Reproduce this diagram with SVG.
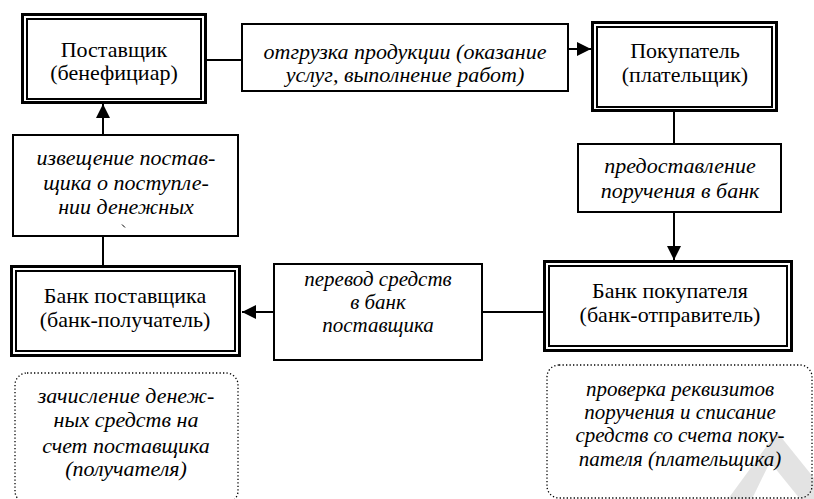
<svg xmlns="http://www.w3.org/2000/svg" width="814" height="499" viewBox="0 0 814 499">
<defs>
<marker id="ah" markerUnits="userSpaceOnUse" markerWidth="16" markerHeight="16" viewBox="0 0 16 16" refX="15" refY="8" orient="auto">
<path d="M1,1 L15,8 L1,15 Z" fill="#000"/>
</marker>
</defs>
<rect x="0" y="0" width="814" height="499" fill="#fff"/>

<g id="connectors" stroke="#000" stroke-width="2" fill="none">
<line x1="207" y1="60" x2="242" y2="60"/>
<line x1="568" y1="49" x2="591" y2="49" marker-end="url(#ah)"/>
<line x1="674" y1="112" x2="674" y2="144"/>
<line x1="674" y1="212" x2="674" y2="260" marker-end="url(#ah)"/>
<line x1="543" y1="312" x2="482" y2="312"/>
<line x1="274" y1="312" x2="242" y2="312" marker-end="url(#ah)"/>
<line x1="103" y1="265" x2="103" y2="236"/>
<line x1="103" y1="135" x2="103" y2="104" marker-end="url(#ah)"/>
</g>

<g id="postavshchik">
<rect x="22.5" y="14.5" width="183" height="88" fill="#fff" stroke="#000" stroke-width="3"/>
<rect x="27" y="19" width="174" height="80" fill="none" stroke="#000" stroke-width="2"/>
<text style="font-family:'Liberation Serif'" font-size="22" text-anchor="middle" x="114" y="57">Поставщик</text>
<text style="font-family:'Liberation Serif'" font-size="22" text-anchor="middle" x="114" y="80">(бенефициар)</text>
</g>

<g id="otgruzka">
<rect x="242" y="24" width="326" height="67" fill="#fff" stroke="#000" stroke-width="2"/>
<text style="font-family:'Liberation Serif'" font-style="italic" font-size="22" text-anchor="middle" x="405" y="59">отгрузка продукции (оказание</text>
<text style="font-family:'Liberation Serif'" font-style="italic" font-size="22" text-anchor="middle" x="405" y="82">услуг, выполнение работ)</text>
</g>

<g id="pokupatel">
<rect x="592.5" y="22.5" width="184" height="88" fill="#fff" stroke="#000" stroke-width="3"/>
<rect x="597" y="27" width="175" height="80" fill="none" stroke="#000" stroke-width="2"/>
<text style="font-family:'Liberation Serif'" font-size="22" text-anchor="middle" x="685" y="58">Покупатель</text>
<text style="font-family:'Liberation Serif'" font-size="22" text-anchor="middle" x="685" y="82">(плательщик)</text>
</g>

<g id="predostavlenie">
<rect x="578" y="144" width="203" height="68" fill="#fff" stroke="#000" stroke-width="2"/>
<text style="font-family:'Liberation Serif'" font-style="italic" font-size="22" text-anchor="middle" x="680" y="173">предоставление</text>
<text style="font-family:'Liberation Serif'" font-style="italic" font-size="22" text-anchor="middle" x="680" y="198">поручения в банк</text>
</g>

<g id="bank-pokupatelya">
<rect x="544.5" y="261.5" width="247" height="89" fill="#fff" stroke="#000" stroke-width="3"/>
<rect x="549" y="266" width="238" height="80" fill="none" stroke="#000" stroke-width="2"/>
<text style="font-family:'Liberation Serif'" font-size="22" text-anchor="middle" x="670" y="298">Банк покупателя</text>
<text style="font-family:'Liberation Serif'" font-size="22" text-anchor="middle" x="670" y="322">(банк-отправитель)</text>
</g>

<g id="perevod">
<rect x="274" y="264" width="208" height="96" fill="#fff" stroke="#000" stroke-width="2"/>
<text style="font-family:'Liberation Serif'" font-style="italic" font-size="21" text-anchor="middle" x="378" y="286">перевод средств</text>
<text style="font-family:'Liberation Serif'" font-style="italic" font-size="21" text-anchor="middle" x="378" y="309">в банк</text>
<text style="font-family:'Liberation Serif'" font-style="italic" font-size="21" text-anchor="middle" x="378" y="332">поставщика</text>
</g>

<g id="bank-postavshchika">
<rect x="11.5" y="266.5" width="228" height="89" fill="#fff" stroke="#000" stroke-width="3"/>
<rect x="16" y="271" width="219" height="80" fill="none" stroke="#000" stroke-width="2"/>
<text style="font-family:'Liberation Serif'" font-size="22" text-anchor="middle" x="125" y="303">Банк поставщика</text>
<text style="font-family:'Liberation Serif'" font-size="22" text-anchor="middle" x="125" y="327">(банк-получатель)</text>
</g>

<g id="izveshchenie">
<rect x="13" y="135" width="225" height="101" fill="#fff" stroke="#000" stroke-width="2"/>
<text style="font-family:'Liberation Serif'" font-style="italic" font-size="22" text-anchor="middle" x="126" y="165">извещение постав-</text>
<text style="font-family:'Liberation Serif'" font-style="italic" font-size="22" text-anchor="middle" x="126" y="190">щика о поступле-</text>
<text style="font-family:'Liberation Serif'" font-style="italic" font-size="22" text-anchor="middle" x="126" y="214">нии денежных</text>
<line x1="122" y1="224.5" x2="125" y2="227.5" stroke="#000" stroke-width="1"/>
</g>

<g id="zachislenie">
<rect x="15" y="373" width="223" height="130" rx="12" ry="12" fill="#fff" stroke="#000" stroke-width="1.3" stroke-dasharray="1.3 2.2"/>
<text style="font-family:'Liberation Serif'" font-style="italic" font-size="22" text-anchor="middle" x="126" y="403">зачисление денеж-</text>
<text style="font-family:'Liberation Serif'" font-style="italic" font-size="22" text-anchor="middle" x="126" y="427">ных средств на</text>
<text style="font-family:'Liberation Serif'" font-style="italic" font-size="22" text-anchor="middle" x="126" y="453">счет поставщика</text>
<text style="font-family:'Liberation Serif'" font-style="italic" font-size="22" text-anchor="middle" x="126" y="476">(получателя)</text>
</g>

<g id="proverka">
<rect x="547" y="365" width="265" height="133" rx="12" ry="12" fill="#fff" stroke="#000" stroke-width="1.3" stroke-dasharray="1.3 2.2"/>
<text style="font-family:'Liberation Serif'" font-style="italic" font-size="21" text-anchor="middle" x="680" y="396">проверка реквизитов</text>
<text style="font-family:'Liberation Serif'" font-style="italic" font-size="21" text-anchor="middle" x="680" y="419">поручения и списание</text>
<text style="font-family:'Liberation Serif'" font-style="italic" font-size="21" text-anchor="middle" x="680" y="442">средств со счета поку-</text>
<text style="font-family:'Liberation Serif'" font-style="italic" font-size="21" text-anchor="middle" x="680" y="466">пателя (плательщика)</text>
</g>

<polygon points="728,499 777,432 814,478 814,499 800,499 770,462 752,499" fill="#000" fill-opacity="0.11"/>
</svg>
